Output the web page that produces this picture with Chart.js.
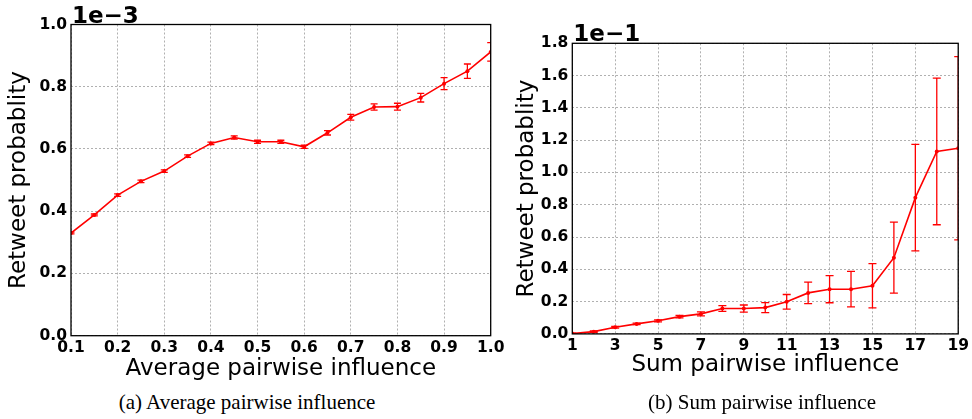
<!DOCTYPE html>
<html>
<head>
<meta charset="utf-8">
<script src="https://cdn.jsdelivr.net/npm/chart.js@4"></script>
<style>
  body { margin: 0; background: #fff; width: 972px; height: 419px; position: relative; overflow: hidden; }
  canvas { position: absolute; top: 0; }
  #chart-avg { left: 0; }
  #chart-sum { left: 500px; }
  .caption { position: absolute; top: 392px; line-height: 21px; font-family: "Liberation Serif", serif; font-size: 21px; color: #000; transform: translateX(-50%); white-space: nowrap; }
</style>
</head>
<body>
<canvas id="chart-avg" width="510" height="385"></canvas>
<canvas id="chart-sum" width="472" height="385"></canvas>
<div class="caption" style="left:247px">(a) Average pairwise influence</div>
<div class="caption" style="left:762px">(b) Sum pairwise influence</div>
<script>
// (a) average pairwise influence, y in units of 1e-3
const avgInfluence = [0.1, 0.15, 0.2, 0.25, 0.3, 0.35, 0.4, 0.45, 0.5, 0.55, 0.6, 0.65, 0.7, 0.75, 0.8, 0.85, 0.9, 0.95, 1.0];
const avgProb = [0.330, 0.388, 0.452, 0.496, 0.529, 0.577, 0.618, 0.637, 0.623, 0.623, 0.607, 0.652, 0.702, 0.735, 0.736, 0.765, 0.810, 0.850, 0.912];
const avgErr = [0.003, 0.003, 0.004, 0.004, 0.004, 0.004, 0.004, 0.005, 0.005, 0.005, 0.005, 0.007, 0.009, 0.010, 0.011, 0.014, 0.019, 0.023, 0.030];

// (b) sum pairwise influence, y in units of 1e-1
const sumInfluence = [1, 2, 3, 4, 5, 6, 7, 8, 9, 10, 11, 12, 13, 14, 15, 16, 17, 18, 19];
const sumProb = [0.002, 0.014, 0.041, 0.062, 0.081, 0.107, 0.124, 0.157, 0.157, 0.163, 0.199, 0.254, 0.277, 0.277, 0.298, 0.472, 0.844, 1.130, 1.150];
const sumErr = [0.003, 0.004, 0.005, 0.005, 0.006, 0.008, 0.012, 0.018, 0.022, 0.031, 0.045, 0.067, 0.084, 0.110, 0.137, 0.220, 0.330, 0.454, 0.567];

const avgTicksY = [0, 0.2, 0.4, 0.6, 0.8, 1.0];
const sumTicksY = [0, 0.2, 0.4, 0.6, 0.8, 1.0, 1.2, 1.4, 1.6, 1.8];

const TICK_FONT = { family: 'DejaVu Sans', size: 15.5, weight: 'bold' };
const TITLE_FONT = { family: 'DejaVu Sans', size: 23 };

// error bars, frame and the "1e-3" offset label
const extras = {
  id: 'extras',
  afterDatasetsDraw(chart, args, opts) {
    const { ctx, chartArea: a, scales: { x, y } } = chart;
    const pts = chart.data.datasets[0].data;
    ctx.save();
    ctx.beginPath();
    ctx.rect(a.left, a.top, a.width, a.height);
    ctx.clip();
    ctx.strokeStyle = '#ff0000';
    ctx.lineWidth = 1.3;
    opts.err.forEach((e, i) => {
      const px = x.getPixelForValue(pts[i].x);
      const top = y.getPixelForValue(pts[i].y + e);
      const bot = y.getPixelForValue(pts[i].y - e);
      ctx.beginPath();
      ctx.moveTo(px, top); ctx.lineTo(px, bot);
      ctx.moveTo(px - opts.cap, top); ctx.lineTo(px + opts.cap, top);
      ctx.moveTo(px - opts.cap, bot); ctx.lineTo(px + opts.cap, bot);
      ctx.stroke();
    });
    ctx.restore();

    ctx.save();
    ctx.strokeStyle = '#000';
    ctx.lineWidth = 1.3;
    ctx.strokeRect(a.left, a.top, a.width, a.height);
    ctx.fillStyle = '#000';
    ctx.font = 'bold 23px "DejaVu Sans"';
    ctx.textBaseline = 'alphabetic';
    ctx.textAlign = 'left';
    ctx.fillText(opts.offset, a.left + 1, a.top - 2);
    ctx.restore();
  }
};

function makeChart(id, xs, ys, err, cfg) {
  return new Chart(document.getElementById(id), {
    type: 'line',
    data: {
      datasets: [{
        data: xs.map((v, i) => ({ x: v, y: ys[i] })),
        borderColor: '#ff0000',
        backgroundColor: '#ff0000',
        borderWidth: 1.6,
        pointRadius: 2,
        pointBorderWidth: 0,
        tension: 0
      }]
    },
    options: {
      responsive: false,
      animation: false,
      layout: { padding: { top: cfg.top, right: cfg.right, left: 0, bottom: 0 } },
      plugins: {
        legend: { display: false },
        tooltip: { enabled: false },
        extras: { err: err, cap: cfg.cap, offset: cfg.offset }
      },
      scales: {
        x: {
          type: 'linear',
          min: cfg.xMin, max: cfg.xMax,
          afterFit: s => { s.height = cfg.xHeight; },
          ticks: {
            stepSize: cfg.xStep,
            color: '#000',
            font: TICK_FONT,
            padding: 3,
            maxRotation: 0,
            autoSkip: false,
            callback: v => cfg.xDigits ? v.toFixed(cfg.xDigits) : String(Math.round(v))
          },
          grid: { color: '#b0b0b0', lineWidth: 1, drawTicks: false },
          border: { display: false, dash: [2, 2] },
          title: { display: true, text: cfg.xTitle, color: '#000', font: TITLE_FONT, padding: { top: 0, bottom: cfg.xTitlePad } }
        },
        y: {
          type: 'linear',
          min: 0, max: cfg.yMax,
          afterFit: s => { s.width = cfg.yWidth; },
          afterBuildTicks: s => { s.ticks = cfg.yTicks.map(v => ({ value: v })); },
          ticks: {
            color: '#000',
            font: TICK_FONT,
            padding: 4,
            callback: v => v.toFixed(1)
          },
          grid: { color: '#b0b0b0', lineWidth: 1, drawTicks: false },
          border: { display: false, dash: [2, 2] },
          title: { display: true, text: 'Retweet probablity', color: '#000', font: TITLE_FONT, padding: { top: cfg.yTitlePad, bottom: 0 } }
        }
      }
    },
    plugins: [extras]
  });
}

makeChart('chart-avg', avgInfluence, avgProb, avgErr, {
  top: 24.5, right: 19.3, xHeight: 49.3, yWidth: 71, cap: 3.5,
  xMin: 0.1, xMax: 1.0, xStep: 0.1, xDigits: 1, yMax: 1.0, yTicks: avgTicksY,
  xTitle: 'Average pairwise influence', offset: '1e\u22123', xTitlePad: 2, yTitlePad: 5
});

makeChart('chart-sum', sumInfluence, sumProb, sumErr, {
  top: 43.3, right: 12, xHeight: 51.1, yWidth: 72.3, cap: 4,
  xMin: 1, xMax: 19, xStep: 2, xDigits: 0, yMax: 1.8, yTicks: sumTicksY,
  xTitle: 'Sum pairwise influence', offset: '1e\u22121', xTitlePad: 6, yTitlePad: 13
});
</script>
</body>
</html>
